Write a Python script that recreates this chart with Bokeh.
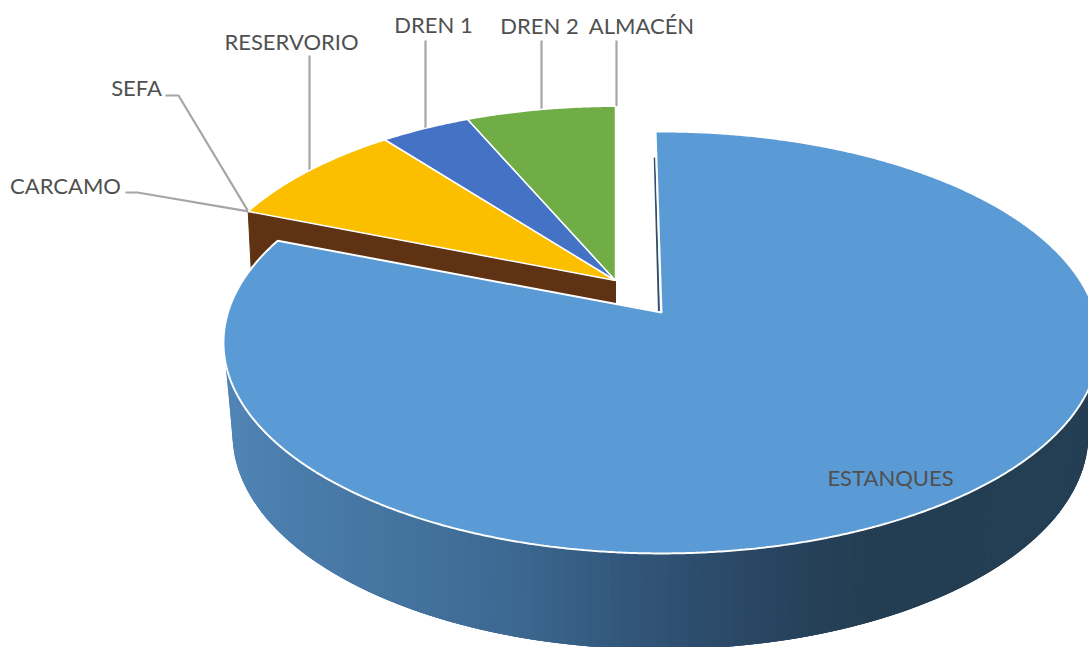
import numpy as np
from bokeh.plotting import figure
from bokeh.models import Range1d
from bokeh.core.properties import value
from bokeh.embed import file_html
from bokeh.resources import INLINE

# ---- data (clockwise from 12 o'clock) ----
labels = ["ESTANQUES", "CARCAMO", "SEFA", "RESERVORIO", "DREN 1", "DREN 2", "ALMACÉN"]
shares = [80.95, 0.0, 0.0, 8.45, 4.0, 6.6, 0.0]
colors = ["#5B9BD5", "#ED7D31", "#A5A5A5", "#FCBF00", "#4472C4", "#70AD47", "#255E91"]

# ---- layout ----
W, H = 1088, 647
p = figure(width=W, height=H, output_backend="svg", toolbar_location=None,
           x_range=Range1d(0, W), y_range=Range1d(H, 0),
           min_border=0, background_fill_color="white", border_fill_color="white")
p.axis.visible = False
p.grid.visible = False
p.outline_line_color = None

K = 0.142
def project(theta_deg, cx, cy, f, g):
    t = np.radians(theta_deg)
    d = 1 + K * np.cos(t)
    return cx + f * np.sin(t) / d, cy - g * np.cos(t) / d

BLUE = dict(cx=661.0, cy=312.0, f=433.6, g=206.7)
REST = dict(cx=615.0, cy=280.0, f=415.0, g=199.0)
BLUE_START = -0.9

edges = np.cumsum([0.0] + shares) / sum(shares) * 360.0

def slice_poly(a0, a1, geom):
    th = np.linspace(a0, a1, max(int(abs(a1 - a0) * 3), 8))
    x, y = project(th, **geom)
    return [geom["cx"], *x], [geom["cy"], *y]

# leader lines and labels
rim_end = lambda th: project(th, **REST)
mid = (edges[:-1] + edges[1:]) / 2
label_xy = {"CARCAMO": (65, 185), "SEFA": (136, 87), "RESERVORIO": (291, 41),
            "DREN 1": (433, 24), "DREN 2": (539, 25), "ALMACÉN": (641, 25)}
leader_from = {"CARCAMO": [(125, 192), (137, 192)], "SEFA": [(165, 95), (178, 95)],
               "RESERVORIO": [(309, 55)], "DREN 1": [(425, 40)], "DREN 2": [(541, 40)],
               "ALMACÉN": [(616, 40)]}
for i, name in enumerate(labels):
    if name not in leader_from:
        continue
    ex, ey = rim_end(mid[i])
    pts = leader_from[name]
    if len(pts) == 1:
        ex = pts[0][0]
    xs = [q[0] for q in pts] + [float(ex)]
    ys = [q[1] for q in pts] + [float(ey)]
    p.line(xs, ys, line_color="#A6A6A6", line_width=2.2)

# brown cut face of the back group
rim_x, rim_y = project(edges[1], **REST)
p.patch([REST["cx"], REST["cx"], rim_x + 3, rim_x],
        [REST["cy"], REST["cy"] + 32, rim_y + 58, rim_y],
        fill_color="#5E3212", line_color="#5E3212", line_width=1)

# back group of slices
for i in range(1, len(labels)):
    if shares[i] <= 0:
        continue
    x, y = slice_poly(edges[i], edges[i + 1], REST)
    p.patch(x, y, fill_color=colors[i], line_color="white", line_width=1.5)

# side wall of the big slice: painted left to right, each band overlapping the next
grad_x = [224, 300, 500, 640, 800, 880, 1090]
grad_c = np.array([[0x50, 0x85, 0xB6], [0x4A, 0x7C, 0xAB], [0x3D, 0x6A, 0x93],
                   [0x31, 0x54, 0x78], [0x26, 0x41, 0x5B], [0x23, 0x3D, 0x52], [0x24, 0x3E, 0x53]], float)
wall_t = np.linspace(257, 103, 120)
tx, ty = project(wall_t, **BLUE)
phi = np.radians(180 + (wall_t - 180) * 90 / 77)
bx, by = 660 + 428 * np.sin(phi), 434 - 215 * np.cos(phi)
for j in range(len(wall_t) - 1):
    end = min(j + 3, len(wall_t) - 1)
    xm = (tx[j] + tx[j + 1]) / 2
    c = [int(round(np.interp(xm, grad_x, grad_c[:, k]))) for k in range(3)]
    col = "#%02x%02x%02x" % tuple(c)
    p.patch([tx[j], tx[end], bx[end], bx[j]], [ty[j], ty[end], by[end], by[j]],
            fill_color=col, line_color=None)

# thin inner wall sliver next to the big slice's straight edge
sx, sy = project(BLUE_START, **BLUE)
p.patch([BLUE["cx"] - 3.5, BLUE["cx"] - 1.5, sx - 0.2, sx - 1.8],
        [BLUE["cy"], BLUE["cy"], sy + 26, sy + 26],
        fill_color="#2F4F6B", line_color=None)

# big slice
x, y = slice_poly(BLUE_START, edges[1], BLUE)
p.patch(x, y, fill_color=colors[0], line_color="white", line_width=2)

# texts
tx_, ty_, names = [], [], []
for name in labels[1:]:
    tx_.append(label_xy[name][0]); ty_.append(label_xy[name][1]); names.append(name)
tx_.append(890); ty_.append(477); names.append(labels[0])
p.text(tx_, ty_, text=names, text_font=value("Lato"), text_font_size="22px",
       text_color="#505050", text_align="center", text_baseline="middle")

open("out.html", "w").write(file_html(p, INLINE))
